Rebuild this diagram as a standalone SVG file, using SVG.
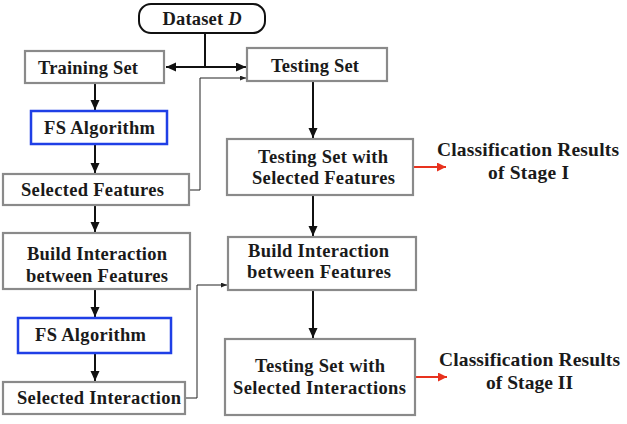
<svg xmlns="http://www.w3.org/2000/svg" width="627" height="424" viewBox="0 0 627 424">
<style>
.box{fill:#fff;stroke:#8a8a8a;stroke-width:2.2}
.blue{fill:#fff;stroke:#1f3fe6;stroke-width:2.5}
.term{fill:#fff;stroke:#111;stroke-width:2}
text{font-family:"Liberation Serif","Times New Roman",serif;font-weight:bold;font-size:18.5px;fill:#1a1a1a;text-anchor:middle}
.res{font-size:19.5px}
.arr{fill:none;stroke:#111;stroke-width:2}
.thin{fill:none;stroke:#222;stroke-width:1}
.red{fill:none;stroke:#e8321e;stroke-width:2}
</style>
<defs>
<marker id="ah" markerUnits="userSpaceOnUse" markerWidth="11" markerHeight="10" refX="10" refY="4.5" orient="auto">
<path d="M0,0 L10,4.5 L0,9 z" fill="#111"/>
</marker>
<marker id="ahs" markerUnits="userSpaceOnUse" markerWidth="7" markerHeight="6" refX="6" refY="2.5" orient="auto">
<path d="M0,0 L6,2.5 L0,5 z" fill="#222"/>
</marker>
<marker id="ahr" markerUnits="userSpaceOnUse" markerWidth="10" markerHeight="10" refX="9" refY="4.5" orient="auto">
<path d="M0,0 L9,4.5 L0,9 z" fill="#e8321e"/>
</marker>
</defs>

<g id="connectors">
<path class="arr" d="M205,33 V67"/>
<path class="arr" d="M206,67 H166" marker-end="url(#ah)"/>
<path class="arr" d="M204,67 H246" marker-end="url(#ah)"/>
<path class="arr" d="M95,83 V110" marker-end="url(#ah)"/>
<path class="arr" d="M95,145 V173" marker-end="url(#ah)"/>
<path class="arr" d="M95,206 V232" marker-end="url(#ah)"/>
<path class="arr" d="M95,290 V317" marker-end="url(#ah)"/>
<path class="arr" d="M95,354 V381" marker-end="url(#ah)"/>
<path class="arr" d="M313,82 V138" marker-end="url(#ah)"/>
<path class="arr" d="M313,196 V236" marker-end="url(#ah)"/>
<path class="arr" d="M313,291 V338" marker-end="url(#ah)"/>
<path class="thin" d="M190,190 H200 V78 H246" marker-end="url(#ahs)"/>
<path class="thin" d="M186,398 H197 V285 H227" marker-end="url(#ahs)"/>
<path class="red" d="M414,167 H446" marker-end="url(#ahr)"/>
<path class="red" d="M416,377 H447" marker-end="url(#ahr)"/>
</g>

<g id="dataset">
<rect class="term" x="139" y="4" width="126" height="29" rx="12"/>
<text x="202" y="25" textLength="79" lengthAdjust="spacing">Dataset <tspan font-style="italic">D</tspan></text>
</g>
<g id="training-set">
<rect class="box" x="25" y="51" width="139" height="32"/>
<text x="88" y="74" textLength="100" lengthAdjust="spacing">Training Set</text>
</g>
<g id="testing-set">
<rect class="box" x="247" y="48" width="140" height="33"/>
<text x="315" y="72" textLength="88" lengthAdjust="spacing">Testing Set</text>
</g>
<g id="fs-algorithm-1">
<rect class="blue" x="31" y="111" width="136" height="33"/>
<text x="99.5" y="134" textLength="111" lengthAdjust="spacing">FS Algorithm</text>
</g>
<g id="selected-features">
<rect class="box" x="3" y="174" width="186" height="31"/>
<text x="92.5" y="196" textLength="143" lengthAdjust="spacing">Selected Features</text>
</g>
<g id="build-interaction-left">
<rect class="box" x="3" y="233" width="187" height="56"/>
<text x="97" y="260" textLength="140" lengthAdjust="spacing">Build Interaction</text>
<text x="97" y="282" textLength="142" lengthAdjust="spacing">between Features</text>
</g>
<g id="fs-algorithm-2">
<rect class="blue" x="18" y="318" width="153" height="35"/>
<text x="90.5" y="341" textLength="111" lengthAdjust="spacing">FS Algorithm</text>
</g>
<g id="selected-interaction">
<rect class="box" x="3" y="382" width="182" height="32"/>
<text x="99" y="404" textLength="164" lengthAdjust="spacing">Selected Interaction</text>
</g>
<g id="testing-set-selected-features">
<rect class="box" x="227" y="139" width="186" height="56"/>
<text x="323" y="163" textLength="130" lengthAdjust="spacing">Testing Set with</text>
<text x="323.5" y="184" textLength="143" lengthAdjust="spacing">Selected Features</text>
</g>
<g id="build-interaction-right">
<rect class="box" x="228" y="237" width="188" height="53"/>
<text x="318.5" y="257" textLength="141" lengthAdjust="spacing">Build Interaction</text>
<text x="319" y="278" textLength="144" lengthAdjust="spacing">between Features</text>
</g>
<g id="testing-set-selected-interactions">
<rect class="box" x="225" y="339" width="190" height="76"/>
<text x="320" y="372" textLength="130" lengthAdjust="spacing">Testing Set with</text>
<text x="319.5" y="394" textLength="173" lengthAdjust="spacing">Selected Interactions</text>
</g>
<g id="results-stage-1">
<text class="res" x="528" y="156" textLength="182" lengthAdjust="spacing">Classification Results</text>
<text class="res" x="528.5" y="179" textLength="81" lengthAdjust="spacing">of Stage I</text>
</g>
<g id="results-stage-2">
<text class="res" x="529.5" y="366" textLength="181" lengthAdjust="spacing">Classification Results</text>
<text class="res" x="529.5" y="389" textLength="87" lengthAdjust="spacing">of Stage II</text>
</g>
</svg>
